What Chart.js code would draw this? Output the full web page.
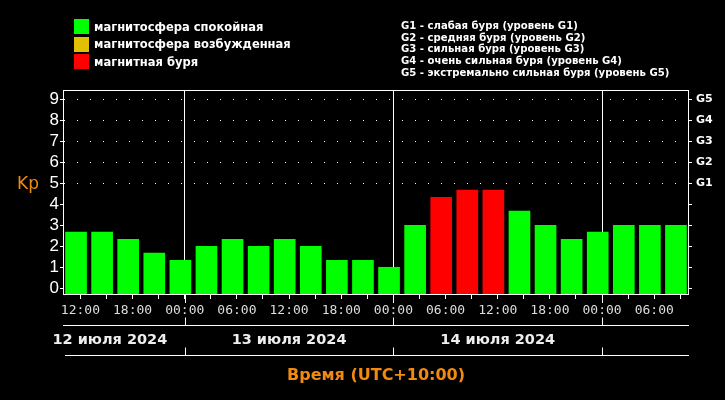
<!DOCTYPE html>
<html>
<head>
<meta charset="utf-8">
<script src="https://cdn.jsdelivr.net/npm/chart.js@4/dist/chart.umd.min.js"></script>
<style>
body{margin:0;background:#000;}
#wrap{position:relative;width:725px;height:400px;}
#wrap canvas{position:absolute;left:0;top:0;}
.legend{position:absolute;color:#fff;font-family:"DejaVu Sans";font-weight:bold;white-space:nowrap;}
#lgLeft{left:74px;top:19px;font-size:11.5px;}
#lgLeft div{display:flex;align-items:center;height:20px;margin-top:-2.5px;}
#lgLeft span{display:inline-block;width:15px;height:15px;margin-right:5px;}
#lgRight{left:401px;top:20px;font-size:10.1px;line-height:11.67px;}
</style>
</head>
<body>
<div id="wrap">
<canvas id="kp" width="725" height="400"></canvas>
<div class="legend" id="lgLeft"></div>
<div class="legend" id="lgRight"></div>
</div>
<script>
// интервалы по 3 часа (местное время UTC+10), начало интервала
var intervals = ['12.07 10:00','12.07 13:00','12.07 16:00','12.07 19:00','12.07 22:00',
  '13.07 01:00','13.07 04:00','13.07 07:00','13.07 10:00','13.07 13:00','13.07 16:00','13.07 19:00','13.07 22:00',
  '14.07 01:00','14.07 04:00','14.07 07:00','14.07 10:00','14.07 13:00','14.07 16:00','14.07 19:00','14.07 22:00',
  '15.07 01:00','15.07 04:00','15.07 07:00'];
var kpValues = [2.67,2.67,2.33,1.67,1.33,
  2,2.33,2,2.33,2,1.33,1.33,1,
  3,4.33,4.67,4.67,3.67,3,2.33,2.67,
  3,3,3];
var yTicks = [0,1,2,3,4,5,6,7,8,9];
var gLabels = ['G1','G2','G3','G4','G5'];
var dayLabels = ['12 июля 2024','13 июля 2024','14 июля 2024'];
var legendLeft = ['магнитосфера спокойная','магнитосфера возбужденная','магнитная буря'];
var legendRight = ['G1 - слабая буря (уровень G1)','G2 - средняя буря (уровень G2)','G3 - сильная буря (уровень G3)',
  'G4 - очень сильная буря (уровень G4)','G5 - экстремально сильная буря (уровень G5)'];

var GREEN = '#00ff00', YELLOW = '#e0c000', RED = '#ff0000', ORANGE = '#f28a10';
var FIRST_DAY = 12;

// часы от 12.07 00:00
function toHours(s){
  var d = parseInt(s.slice(0,2)), h = parseInt(s.slice(6,8));
  return (d - FIRST_DAY) * 24 + h;
}
var starts = intervals.map(toHours);
var points = starts.map(function(h, i){ return {x: h + 1.5, y: kpValues[i]}; });
var barColors = kpValues.map(function(v){ return v > 4 ? RED : (v == 4 ? YELLOW : GREEN); });
var xMin = starts[0], xMax = starts[starts.length-1] + 3;
var xTicks = [];
for (var t = xMin; t <= xMax; t++) if (t % 3 === 0) xTicks.push(t);

document.getElementById('lgLeft').innerHTML = legendLeft.map(function(txt, i){
  return '<div><span style="background:' + [GREEN,YELLOW,RED][i] + '"></span>' + txt + '</div>';
}).join('');
document.getElementById('lgRight').innerHTML = legendRight.join('<br>');

function pad(n){ return (n < 10 ? '0' : '') + n; }

const decor = {
  id: 'decor',
  afterDraw(chart){
    const {ctx, chartArea: a, scales: {x}} = chart;
    ctx.save();
    ctx.strokeStyle = '#fff';
    ctx.lineWidth = 1;
    ctx.strokeRect(a.left + 0.5, a.top + 0.5, a.right - a.left - 1, a.bottom - a.top - 1);

    var mids = xTicks.filter(function(v){ return v % 24 === 0; }).map(function(v){ return Math.round(x.getPixelForValue(v)) + 0.5; });
    ctx.beginPath();
    mids.forEach(function(px){ ctx.moveTo(px, a.bottom); ctx.lineTo(px, a.bottom + 8); });
    // полосы с датами
    [30, 60].forEach(function(off, k){
      var y = a.bottom + off + 0.5;
      ctx.moveTo(a.left + k * 2, y); ctx.lineTo(a.right, y);
      mids.forEach(function(px){ ctx.moveTo(px, y); ctx.lineTo(px, y - 8); });
    });
    ctx.stroke();

    ctx.fillStyle = '#eee';
    ctx.font = 'bold 14.5px "DejaVu Sans"';
    ctx.textAlign = 'center';
    ctx.textBaseline = 'middle';
    dayLabels.forEach(function(txt, i){
      var l = Math.max(x.getPixelForValue(i * 24), 35);
      var r = x.getPixelForValue((i + 1) * 24);
      ctx.fillText(txt, (l + r) / 2, a.bottom + 45);
    });

    ctx.fillStyle = ORANGE;
    ctx.font = '17px "DejaVu Sans"';
    ctx.textAlign = 'left';
    ctx.textBaseline = 'alphabetic';
    ctx.fillText('Kp', 17, 189);
    ctx.restore();
  }
};

const chart = new Chart(document.getElementById('kp'), {
  type: 'bar',
  plugins: [decor],
  data: {
    datasets: [{
      data: points,
      backgroundColor: barColors,
      borderWidth: 0,
      barThickness: 21,
      base: -0.32
    }]
  },
  options: {
    responsive: false,
    animation: false,
    layout: { padding: { top: 90, left: 0, right: 0, bottom: 0 } },
    plugins: { legend: { display: false }, tooltip: { enabled: false } },
    scales: {
      x: {
        type: 'linear',
        offset: false,
        min: xMin,
        max: xMax,
        afterFit: function(s){ s.height = 105; },
        afterBuildTicks: function(s){ s.ticks = xTicks.map(function(v){ return {value: v}; }); },
        border: { display: false },
        grid: {
          offset: false,
          color: function(c){ return c.tick && c.tick.value % 24 === 0 ? '#fff' : 'transparent'; },
          tickColor: '#fff',
          tickLength: 4,
          lineWidth: 1
        },
        ticks: {
          autoSkip: false,
          maxRotation: 0,
          padding: 4,
          color: '#ddd',
          font: { family: '"DejaVu Sans Mono"', size: 13 },
          callback: function(v){ return v % 6 === 0 ? pad(v % 24) + ':00' : ''; }
        },
        title: {
          display: true,
          text: 'Время (UTC+10:00)',
          color: ORANGE,
          font: { family: '"DejaVu Sans"', size: 16, weight: 'bold' },
          padding: { top: 0, bottom: 15 }
        }
      },
      y: {
        position: 'left',
        min: -0.32,
        max: 9.44,
        afterFit: function(s){ s.width = 63; },
        afterBuildTicks: function(s){ s.ticks = yTicks.map(function(v){ return {value: v}; }); },
        border: { display: false, dash: [1, 12], dashOffset: 12 },
        grid: {
          color: function(c){ return c.tick && c.tick.value >= 5 ? '#fff' : 'transparent'; },
          tickColor: '#fff',
          tickLength: 3,
          lineWidth: 1
        },
        ticks: {
          autoSkip: false,
          padding: 1,
          color: '#fff',
          font: { family: '"Liberation Sans"', size: 17 }
        }
      },
      y2: {
        position: 'right',
        min: -0.32,
        max: 9.44,
        afterFit: function(s){ s.width = 36; },
        afterBuildTicks: function(s){ s.ticks = yTicks.map(function(v){ return {value: v}; }); },
        border: { display: false },
        grid: { drawOnChartArea: false, tickColor: '#fff', tickLength: 3 },
        ticks: {
          autoSkip: false,
          padding: 4,
          color: '#fff',
          font: { family: '"DejaVu Sans"', size: 11, weight: 'bold' },
          callback: function(v){ return v >= 5 ? gLabels[v - 5] : ''; }
        }
      }
    }
  }
});
</script>
</body>
</html>
